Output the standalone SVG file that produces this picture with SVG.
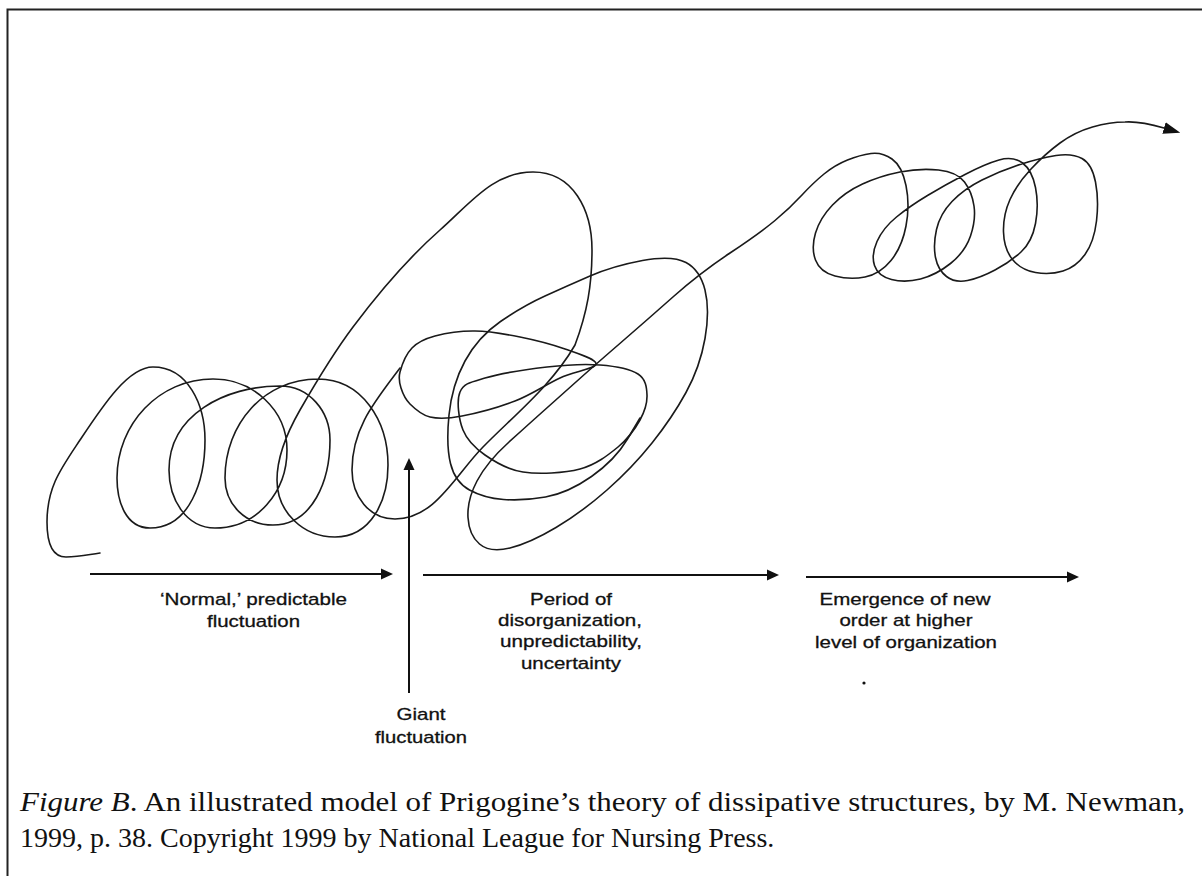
<svg xmlns="http://www.w3.org/2000/svg" width="1202" height="876" viewBox="0 0 1202 876">
<style>
.frame{stroke:#222;stroke-width:2;fill:none}
.curve{fill:none;stroke:#1a1a1a;stroke-width:1.6;stroke-linejoin:round;stroke-linecap:round}
.arr{fill:none;stroke:#111;stroke-width:2}
.lbl{font-family:"Liberation Sans",Arial,Helvetica,sans-serif;font-size:17px;fill:#111;stroke:#111;stroke-width:0.3;text-anchor:middle}
.cap{font-family:"Liberation Serif","Times New Roman",serif;font-size:28px;fill:#111}
</style>
<defs>
<marker id="ah" markerUnits="userSpaceOnUse" markerWidth="12" markerHeight="12" refX="0" refY="6" orient="auto" viewBox="0 0 12 12"><path d="M0,0.5 L12,6 L0,11.5 z" fill="#111"/></marker>
<marker id="ahc" markerUnits="userSpaceOnUse" markerWidth="17" markerHeight="13" refX="0" refY="6.5" orient="auto" viewBox="0 0 17 13"><path d="M0,0.5 L17,6.5 L0,12.5 z" fill="#111"/></marker>
</defs>
<rect width="1202" height="876" fill="#fff"/>
<g id="frame"><path class="frame" d="M7.5,876 V9.5 H1202"/></g>
<g id="trajectory">
<path class="curve" d="M100,553 C86.4,555 79.7,557 66,557 C50.1,557 47,537.9 47,522 C47,487 60.7,469 80,440 C102.6,406 128,367 153,367 C188,367 205,405 205,440 C205,480 190,528 150,528 C126,528 117,502 117,478 C117,424 159,379 213,379 C253,379 287,410 287,450 C287,492 257,528 215,528 C186,528 169,499 169,470 C169,415 225,386 280,386 C309,386 330,411 330,440 C330,480 313,525 273,525 C246,525 225,505 225,478 C225,424 264,379 318,379 C362,379 388,421 388,465 C388,501 371,537 335,537 C303,537 277,512 277,480 C277,455 287.5,431.75 300,410 C316.5,381.3 333.2,353.4 353,327 C378.8,292.6 407.8,258.4 440,230 C470,203.6 493,172 533,172 C573,172 592,210 592,250 C592,285 587.25,312.1 575,345 C552,385 515.2,414.3 483,447 C455,475.4 435,519 395,519 C369,519 352,496 352,470 C352,428 374.8,401.6 400,368"/>
<path class="curve" d="M400,372 C401.8,365.3 406.2,354 412,348 S424.5,338.8 435,336 S460.8,330.8 475,331 S505,334 520,337 S552.3,344.5 565,349 S596.8,359.2 596,364 S573.5,371.8 560,378 S531.3,394.7 515,401 S476.2,413.3 462,416 S438.7,419 430,417 S414.8,408.8 410,404 S402.7,393.3 401,388 S398.2,378.7 400,372 Z"/>
<path class="curve" d="M460,392 C463.7,383.3 470.5,382.2 485,378 S527.8,369.2 547,367 S584.8,363.8 600,365 S630.2,369 638,374 S646.7,387.3 647,395 S644.8,411.3 640,420 S628,438.8 618,447 S595.8,464.8 580,469 S538.8,474.3 523,472 S495,462 485,455 S467.2,440.5 463,430 S456.3,400.7 460,392 Z"/>
<path class="curve" marker-end="url(#ahc)" d="M640,418 L627.5,439 Q615,460 591.5,476.5 Q568,493 545.5,497 Q523,501 503.5,499.5 Q484,498 469.5,490 Q455,482 450.5,463.5 Q446,445 449,415 Q452,385 465,361 Q478,337 500.5,321.5 Q523,306 545,296 Q567,286 590,276 Q613,266 642.5,260.5 Q672,255 686,262.5 Q700,270 705,290 Q710,310 705,338.5 Q700,367 686,392.5 Q672,418 652,443 Q632,468 607,490 Q582,512 556,527.5 Q530,543 510,548 Q490,553 479.5,544 Q469,535 468,517.5 Q467,500 477,481 Q487,462 508.5,442.5 Q530,423 548.5,406.5 Q567,390 581,377.5 Q595,365 621,342.5 Q647,320 673.5,296.5 Q700,273 730,253 Q760,233 775,220.5 Q790,208 801.5,195.5 Q813,183 824,174 Q835,165 847.5,160 Q860,155 871,153.5 Q882,152 892,159 Q902,166 906,185.5 Q910,205 906,226 Q902,247 891,260.5 Q880,274 865,277 Q850,280 835,276 Q820,272 815.5,260 Q811,248 815.5,233 Q820,218 832.5,205 Q845,192 862.5,184 Q880,176 900,172 Q920,168 938.5,170 Q957,172 964.5,182 Q972,192 974,206 Q976,220 970.5,236 Q965,252 950.5,263.5 Q936,275 920.5,279 Q905,283 891.5,279.5 Q878,276 874.5,265.5 Q871,255 877,241.5 Q883,228 896.5,217 Q910,206 927.5,195.5 Q945,185 965,174.5 Q985,164 999,160 Q1013,156 1022.5,163 Q1032,170 1035.5,187.5 Q1039,205 1035.5,223.5 Q1032,242 1021,252 Q1010,262 995,270 Q980,278 967.5,280.5 Q955,283 946.5,276.5 Q938,270 935.5,257.5 Q933,245 936.5,229.5 Q940,214 952,201.5 Q964,189 982,180 Q1000,171 1020,164.5 Q1040,158 1056,155.5 Q1072,153 1082,158.5 Q1092,164 1095.5,182 Q1099,200 1096.5,221 Q1094,242 1085,254.5 Q1076,267 1063,271 Q1050,275 1035.5,272.5 Q1021,270 1012.5,259.5 Q1004,249 1003.5,232 Q1003,215 1010,199.5 Q1017,184 1031,169 Q1045,154 1060,143 Q1075,132 1092.5,127 Q1110,122 1125,122 Q1140,121 1164,128"/>
</g>
<g id="connectors">
<line class="arr" x1="90" y1="574" x2="381" y2="574" marker-end="url(#ah)"/>
<line class="arr" x1="423" y1="575" x2="767" y2="575" marker-end="url(#ah)"/>
<line class="arr" x1="806" y1="577" x2="1067" y2="577" marker-end="url(#ah)"/>
<line class="arr" x1="409" y1="693" x2="409" y2="470" marker-end="url(#ah)"/>
</g>
<g id="label-normal">
<text class="lbl" x="253.5" y="605" textLength="187" lengthAdjust="spacingAndGlyphs">‘Normal,’ predictable</text>
<text class="lbl" x="253.5" y="627" textLength="93" lengthAdjust="spacingAndGlyphs">fluctuation</text>
</g>
<g id="label-giant">
<text class="lbl" x="421" y="720" textLength="49" lengthAdjust="spacingAndGlyphs">Giant</text>
<text class="lbl" x="421" y="743" textLength="92" lengthAdjust="spacingAndGlyphs">fluctuation</text>
</g>
<g id="label-period">
<text class="lbl" x="571" y="605" textLength="82" lengthAdjust="spacingAndGlyphs">Period of</text>
<text class="lbl" x="570" y="626" textLength="144" lengthAdjust="spacingAndGlyphs">disorganization,</text>
<text class="lbl" x="571" y="647" textLength="142" lengthAdjust="spacingAndGlyphs">unpredictability,</text>
<text class="lbl" x="571" y="669" textLength="100" lengthAdjust="spacingAndGlyphs">uncertainty</text>
</g>
<g id="label-emergence">
<text class="lbl" x="905" y="605" textLength="171" lengthAdjust="spacingAndGlyphs">Emergence of new</text>
<text class="lbl" x="906" y="626" textLength="133" lengthAdjust="spacingAndGlyphs">order at higher</text>
<text class="lbl" x="906" y="648" textLength="182" lengthAdjust="spacingAndGlyphs">level of organization</text>
<circle cx="864" cy="683" r="1.6" fill="#111"/>
</g>
<g id="caption">
<text class="cap" x="20" y="811" textLength="1165" lengthAdjust="spacingAndGlyphs"><tspan font-style="italic">Figure B</tspan>. An illustrated model of Prigogine’s theory of dissipative structures, by M. Newman,</text>
<text class="cap" x="20" y="847">1999, p. 38. Copyright 1999 by National League for Nursing Press.</text>
</g>
</svg>
